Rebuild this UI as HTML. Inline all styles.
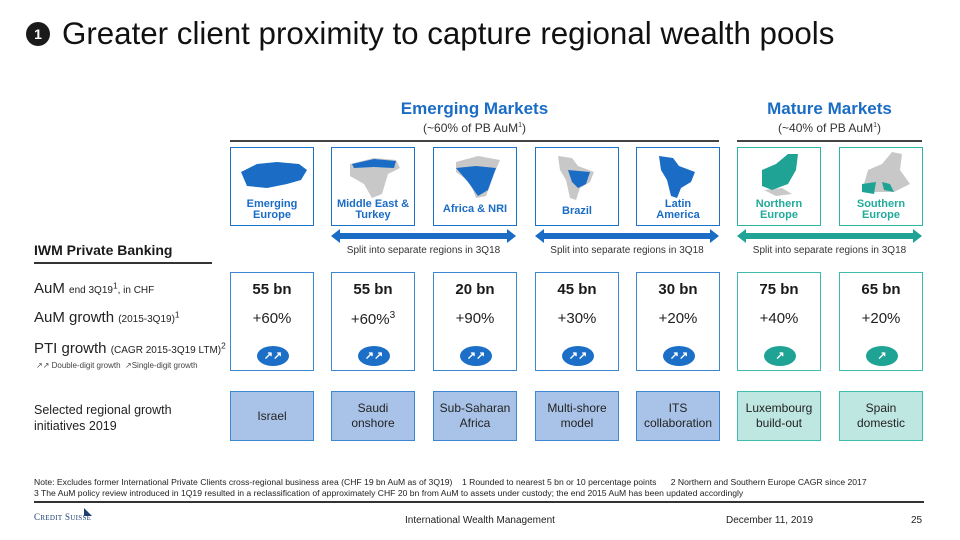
<!DOCTYPE html>
<html><head><meta charset="utf-8"><style>
*{margin:0;padding:0;box-sizing:border-box}
body{width:960px;height:540px;background:#fff;font-family:"Liberation Sans",sans-serif;color:#1a1a1a;position:relative;overflow:hidden}
.a{position:absolute}
.tb{position:absolute;top:147px;width:84px;height:79px;border:1.5px solid #1a73c8;background:#fff}
.tb.t{border-color:#2ab5a5}
.tb .l{position:absolute;left:0;right:0;bottom:4px;text-align:center;font-size:11px;font-weight:bold;color:#1a6cc4;line-height:11px}
.tb.t .l{color:#22aa9a}
.db{position:absolute;top:272px;width:84px;height:99px;border:1.5px solid #3d86d0;background:#fff;text-align:center}
.db.t{border-color:#3dbcae}
.db .v{position:absolute;top:8px;left:0;right:0;font-size:15px;font-weight:bold}
.db .g{position:absolute;top:37px;left:0;right:0;font-size:15px;color:#222}
.db .p{position:absolute;top:73px;left:26px;width:32px;height:20px;border-radius:50%;background:#1b6fc6;color:#fff;font-size:11px;line-height:20px;font-weight:bold}
.db.t .p{background:#1fa394}
.bb{position:absolute;top:391px;width:84px;height:50px;border:1.5px solid #3d86d0;background:#a9c3e8;display:flex;align-items:center;justify-content:center;text-align:center;font-size:12px;line-height:15px;color:#222}
.bb.t{background:#bfe7e1;border-color:#3dbcae}
.ar{position:absolute;top:233px;height:6px}
.ar::before,.ar::after{content:"";position:absolute;top:-4px;border-top:7px solid transparent;border-bottom:7px solid transparent}
.ar::before{left:-6px;border-right:9px solid currentColor}
.ar::after{right:-6px;border-left:9px solid currentColor}
.st{position:absolute;top:245px;font-size:10px;color:#333;text-align:center}
.lab{position:absolute;left:34px;font-size:15px;color:#222}
.lab small{font-size:10px}
</style></head><body>
<div class="a" style="left:26px;top:22px;width:24px;height:24px;border-radius:50%;background:#1a1a1a;color:#fff;font-weight:bold;font-size:14px;text-align:center;line-height:24px">1</div>
<div class="a" style="left:62px;top:16px;font-size:31.3px;color:#111">Greater client proximity to capture regional wealth pools</div>

<div class="a" style="left:230px;width:489px;top:99px;text-align:center;font-size:17px;font-weight:bold;color:#1a6cc4">Emerging Markets</div>
<div class="a" style="left:230px;width:489px;top:121px;text-align:center;font-size:12px;color:#333">(~60% of PB AuM<sup style="font-size:7px">1</sup>)</div>
<div class="a" style="left:230px;width:489px;top:140px;height:2px;background:#444"></div>
<div class="a" style="left:737px;width:185px;top:99px;text-align:center;font-size:17px;font-weight:bold;color:#1a6cc4">Mature Markets</div>
<div class="a" style="left:737px;width:185px;top:121px;text-align:center;font-size:12px;color:#333">(~40% of PB AuM<sup style="font-size:7px">1</sup>)</div>
<div class="a" style="left:737px;width:185px;top:140px;height:2px;background:#444"></div>

<div class="tb" style="left:230px"><svg class="a" style="left:6px;top:10px" width="72" height="34"><path d="M4 14 L20 6 L40 4 L62 6 L70 12 L64 22 L50 26 L30 30 L10 28 Z" fill="#1a6cc4"/></svg><div class="l">Emerging<br>Europe</div></div>
<div class="tb" style="left:331px"><svg class="a" style="left:12px;top:6px" width="60" height="46"><path d="M6 10 L30 4 L52 6 L56 14 L44 20 L38 40 L28 44 L20 30 L6 22 Z" fill="#c8c8c8"/><path d="M8 10 L30 5 L52 7 L50 14 L30 13 L10 14Z" fill="#1a6cc4"/></svg><div class="l">Middle East &amp;<br>Turkey</div></div>
<div class="tb" style="left:433px"><svg class="a" style="left:12px;top:4px" width="60" height="50"><path d="M10 10 L32 4 L54 8 L48 22 L40 44 L30 46 L24 30 L10 20 Z" fill="#c8c8c8"/><path d="M10 16 L30 14 L50 16 L42 38 L32 44 L22 30 Z" fill="#1a6cc4"/></svg><div class="l" style="bottom:10px">Africa &amp; NRI</div></div>
<div class="tb" style="left:535px"><svg class="a" style="left:14px;top:4px" width="56" height="50"><path d="M8 4 L22 6 L28 14 L44 20 L40 30 L30 36 L26 48 L20 46 L16 28 L10 18 Z" fill="#c8c8c8"/><path d="M18 18 L40 20 L36 32 L28 36 L22 30 Z" fill="#1a6cc4"/></svg><div class="l" style="bottom:8px">Brazil</div></div>
<div class="tb" style="left:636px"><svg class="a" style="left:14px;top:4px" width="56" height="48"><path d="M8 4 L22 6 L28 14 L44 20 L40 30 L30 36 L26 46 L20 44 L16 28 L10 18 Z" fill="#1a6cc4"/></svg><div class="l">Latin<br>America</div></div>
<div class="tb t" style="left:737px"><svg class="a" style="left:14px;top:2px" width="56" height="46"><path d="M12 40 L30 38 L40 44 L24 46 Z" fill="#c8c8c8"/><path d="M10 20 L24 14 L36 4 L46 4 L44 20 L36 34 L20 40 L10 36 Z" fill="#1fa394"/></svg><div class="l">Northern<br>Europe</div></div>
<div class="tb t" style="left:839px"><svg class="a" style="left:14px;top:2px" width="60" height="48"><path d="M14 20 L28 14 L38 2 L48 4 L46 20 L56 34 L40 42 L20 42 L10 34 Z" fill="#c8c8c8"/><path d="M8 34 L22 32 L20 44 L8 42Z M28 32 L36 34 L40 42 L30 40Z" fill="#1fa394"/></svg><div class="l">Southern<br>Europe</div></div>

<div class="ar" style="left:337px;width:173px;background:#1a6cc4;color:#1a6cc4"></div>
<div class="ar" style="left:541px;width:172px;background:#1a6cc4;color:#1a6cc4"></div>
<div class="ar" style="left:743px;width:173px;background:#1fa394;color:#1fa394"></div>
<div class="st" style="left:331px;width:185px">Split into separate regions in 3Q18</div>
<div class="st" style="left:535px;width:184px">Split into separate regions in 3Q18</div>
<div class="st" style="left:737px;width:185px">Split into separate regions in 3Q18</div>

<div class="a" style="left:34px;top:242px;font-size:14px;font-weight:bold">IWM Private Banking</div>
<div class="a" style="left:34px;top:262px;width:178px;height:2px;background:#333"></div>
<div class="lab" style="top:280px">AuM <small>end 3Q19<sup>1</sup>, in CHF</small></div>
<div class="lab" style="top:309px">AuM growth <small>(2015-3Q19)<sup>1</sup></small></div>
<div class="lab" style="top:340px">PTI growth <small>(CAGR 2015-3Q19 LTM)<sup>2</sup></small></div>
<div class="a" style="left:36px;top:361px;font-size:8px;color:#444">↗↗ Double-digit growth &nbsp;↗Single-digit growth</div>
<div class="a" style="left:34px;top:402px;font-size:12.5px;line-height:16px;color:#222">Selected regional growth<br>initiatives 2019</div>

<div class="db" style="left:230px"><div class="v">55 bn</div><div class="g">+60%</div><div class="p">↗↗</div></div>
<div class="db" style="left:331px"><div class="v">55 bn</div><div class="g">+60%<sup style="font-size:10px">3</sup></div><div class="p">↗↗</div></div>
<div class="db" style="left:433px"><div class="v">20 bn</div><div class="g">+90%</div><div class="p">↗↗</div></div>
<div class="db" style="left:535px"><div class="v">45 bn</div><div class="g">+30%</div><div class="p">↗↗</div></div>
<div class="db" style="left:636px"><div class="v">30 bn</div><div class="g">+20%</div><div class="p">↗↗</div></div>
<div class="db t" style="left:737px"><div class="v">75 bn</div><div class="g">+40%</div><div class="p">↗</div></div>
<div class="db t" style="left:839px"><div class="v">65 bn</div><div class="g">+20%</div><div class="p">↗</div></div>

<div class="bb" style="left:230px">Israel</div>
<div class="bb" style="left:331px">Saudi<br>onshore</div>
<div class="bb" style="left:433px">Sub-Saharan<br>Africa</div>
<div class="bb" style="left:535px">Multi-shore<br>model</div>
<div class="bb" style="left:636px">ITS<br>collaboration</div>
<div class="bb t" style="left:737px">Luxembourg<br>build-out</div>
<div class="bb t" style="left:839px">Spain<br>domestic</div>

<div class="a" style="left:34px;top:477px;font-size:8.6px;line-height:11px;color:#222;white-space:nowrap">Note: Excludes former International Private Clients cross-regional business area (CHF 19 bn AuM as of 3Q19) &nbsp;&nbsp; 1 Rounded to nearest 5 bn or 10 percentage points &nbsp;&nbsp;&nbsp;&nbsp; 2 Northern and Southern Europe CAGR since 2017<br>3 The AuM policy review introduced in 1Q19 resulted in a reclassification of approximately CHF 20 bn from AuM to assets under custody; the end 2015 AuM has been updated accordingly</div>
<div class="a" style="left:34px;top:501px;width:890px;height:1.5px;background:#333"></div>
<div class="a" style="left:34px;top:512px;font-family:'Liberation Serif',serif;font-size:9px;color:#1d3f6e;letter-spacing:0.3px">C<span style="font-size:7px">REDIT</span> S<span style="font-size:7px">UISSE</span></div>
<svg class="a" style="left:82px;top:506px" width="12" height="12"><path d="M2 2 L10 10 L2 10 Z" fill="#1d3f6e"/></svg>
<div class="a" style="left:405px;top:515px;font-size:10px;color:#222">International Wealth Management</div>
<div class="a" style="left:726px;top:515px;font-size:10px;color:#222">December 11, 2019</div>
<div class="a" style="left:911px;top:515px;font-size:10px;color:#222">25</div>
</body></html>
